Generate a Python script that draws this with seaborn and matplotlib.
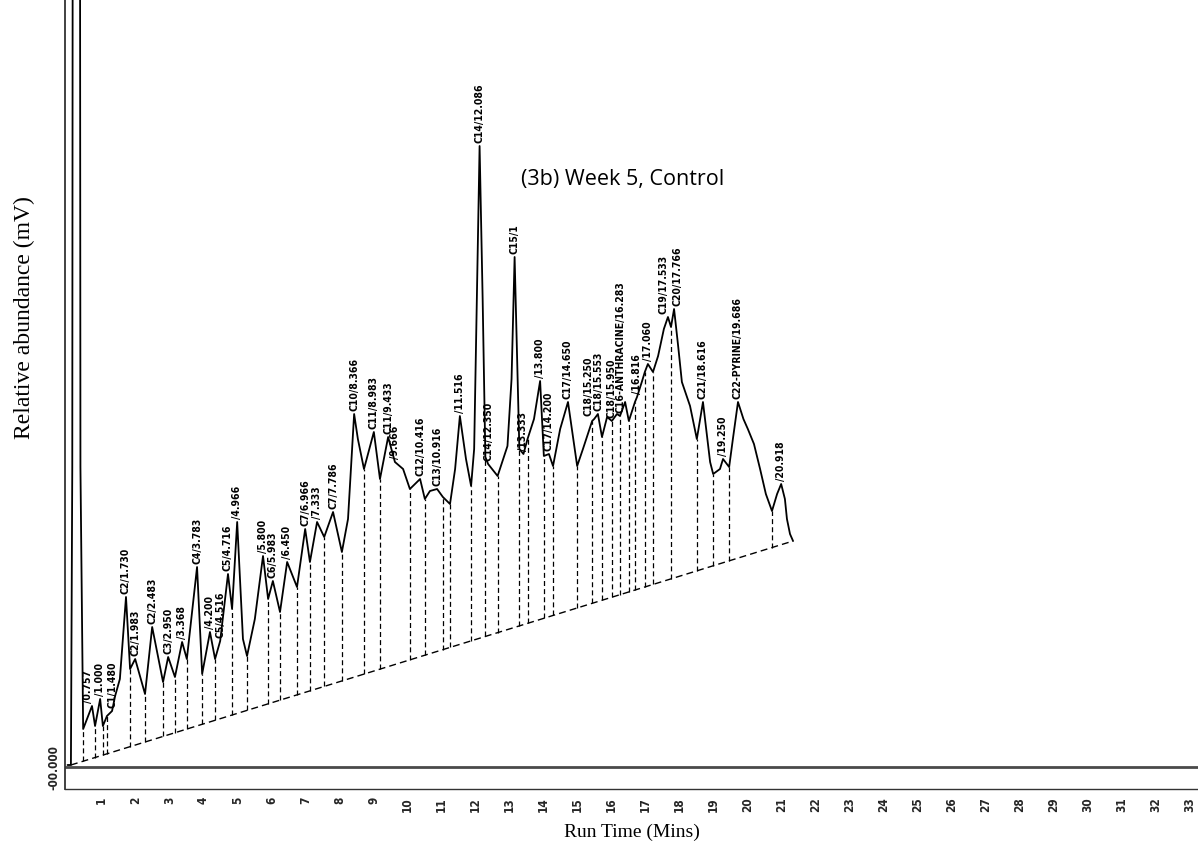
import numpy as np
import matplotlib
matplotlib.use("Agg")
import matplotlib.pyplot as plt
import seaborn as sns

# ---------------- data ----------------
trace_time = [0.00, 0.10, 0.14, 0.20, 0.32, 0.38, 0.46, 0.72, 0.81, 0.96, 1.04, 1.16, 1.31, 1.40, 1.54,
              1.72, 1.84, 1.99, 2.28, 2.49, 2.81, 2.96, 3.16, 3.37, 3.51, 3.81, 3.96, 4.19, 4.34, 4.49,
              4.72, 4.84, 4.99, 5.16, 5.28, 5.51, 5.75, 5.90, 6.04, 6.25, 6.46, 6.75, 6.99, 7.13, 7.34,
              7.55, 7.81, 8.07, 8.25, 8.43, 8.54, 8.72, 9.01, 9.19, 9.43, 9.63, 9.87, 10.07, 10.37, 10.51,
              10.66, 10.87, 11.04, 11.25, 11.40, 11.54, 11.72, 11.87, 11.96, 12.04, 12.12, 12.21, 12.29,
              12.37, 12.65, 12.94, 13.06, 13.15, 13.24, 13.29, 13.41, 13.53, 13.72, 13.90, 14.01, 14.16,
              14.28, 14.49, 14.72, 14.99, 15.16, 15.43, 15.49, 15.60, 15.72, 15.87, 16.01, 16.16, 16.25,
              16.40, 16.51, 16.69, 16.75, 16.90, 16.98, 17.07, 17.22, 17.37, 17.54, 17.66, 17.75, 17.84,
              17.96, 18.07, 18.31, 18.51, 18.69, 18.90, 18.99, 19.19, 19.28, 19.46, 19.57, 19.72, 19.88,
              20.01, 20.19, 20.37, 20.54, 20.72, 20.87, 20.99, 21.10, 21.16, 21.25, 21.34]
trace_mv = [2, 2, 300, 3000, 3000, 300, 38, 61, 41, 68, 41, 51, 56, 71, 88,
            170, 98, 108, 73, 140, 85, 110, 90, 125, 108, 200, 93, 135, 108, 126,
            193, 158, 245, 128, 111, 148, 211, 168, 186, 155, 205, 180, 238, 205, 245,
            230, 255, 215, 248, 353, 328, 298, 335, 288, 330, 305, 298, 278, 288, 268,
            276, 278, 270, 263, 298, 351, 308, 281, 318, 468, 621, 468, 310,
            303, 291, 321, 388, 510, 388, 318, 313, 328, 348, 386, 311, 313,
            301, 338, 365, 301, 318, 346, 348, 353, 330, 350, 346, 353, 351,
            365, 346, 365, 370, 386, 395, 403, 395, 411, 438, 450, 440, 458,
            421, 385, 361, 328, 365, 305, 293, 298, 308, 300, 328, 365, 348,
            338, 323, 298, 273, 256, 273, 283, 268, 248, 233, 226]

base_time = [0.10, 21.34]
base_mv = [2, 226]

drop_time = [0.46, 0.81, 1.04, 1.16, 1.84, 2.28, 2.81, 3.16, 3.51, 3.96, 4.34, 4.84, 5.28, 5.90,
             6.25, 6.75, 7.13, 7.55, 8.07, 8.72, 9.19, 10.07, 10.51, 11.04, 11.25, 11.87, 12.29,
             12.65, 13.29, 13.53, 14.01, 14.28, 14.99, 15.43, 15.72, 16.01, 16.25, 16.51, 16.69,
             16.98, 17.22, 17.75, 18.51, 18.99, 19.46, 20.72]

peak_time = [0.72, 0.96, 1.31, 1.72, 1.99, 2.49, 2.96, 3.37, 3.81, 4.19, 4.49, 4.72, 4.99, 5.75,
             6.04, 6.46, 6.99, 7.34, 7.81, 8.43, 9.01, 9.43, 9.63, 10.37, 10.87, 11.54, 12.12,
             12.37, 13.15, 13.41, 13.90, 14.16, 14.72, 15.49, 15.60, 16.01, 16.25, 16.75, 17.07,
             17.66, 17.84, 18.69, 19.28, 19.72, 20.99]
peak_label = ["/0.757", "/1.000", "C1/1.480", "C2/1.730", "C2/1.983", "C2/2.483", "C3/2.950",
              "/3.368", "C4/3.783", "/4.200", "C5/4.516", "C5/4.716", "/4.966", "/5.800",
              "C6/5.983", "/6.450", "C7/6.966", "/7.333", "C7/7.786", "C10/8.366", "C11/8.983",
              "C11/9.433", "/9.666", "C12/10.416", "C13/10.916", "/11.516", "C14/12.086",
              "C14/12.350", "C15/1", "/13.333", "/13.800", "C17/14.200", "C17/14.650",
              "C18/15.250", "C18/15.553", "C18/15.950", "C16-ANTHRACINE/16.283", "/16.816",
              "/17.060", "C19/17.533", "C20/17.766", "C21/18.616", "/19.250",
              "C22-PYRINE/19.686", "/20.918"]

x_ticks = list(range(1, 34))
x_tick_labels = [str(v) for v in x_ticks]
zero_label = "-00.000"

title_text = "(3b) Week 5, Control"
x_title = "Run Time (Mins)"
y_title = "Relative abundance (mV)"

# ---------------- drawing ----------------
sns.set_style("white")
plt.rcParams["font.family"] = ["DejaVu Sans"]
LAB_FONT = dict(family=["DejaVu Sans"], fontstretch="condensed", fontweight="bold")

W, H = 1198, 854
fig = plt.figure(figsize=(W / 100, H / 100), dpi=100)
ax = fig.add_axes([65 / W, 64 / H, (W - 65) / W, 790 / H])

ax.set_xlim(-0.074, 33.25)
ax.set_ylim(-22, 768)

# zero line
ax.axhline(0, color="#4a4a4a", lw=2.0, zorder=1)

# integration baseline (dashed)
sns.lineplot(x=base_time, y=base_mv, ax=ax, color="black", lw=1.0,
             linestyle=(0, (5, 3)), estimator=None, sort=False, zorder=2)

# drop lines from the trace to the baseline
tt = np.array(trace_time, dtype=float)
tv = np.array(trace_mv, dtype=float)
dt = np.array(drop_time, dtype=float)
top_v = np.interp(dt, tt, tv)
bot_v = np.interp(dt, base_time, base_mv)
ax.vlines(dt, bot_v, top_v, colors="black", linestyles=(0, (4, 2.5)), lw=0.9, zorder=2)

# chromatogram trace
sns.lineplot(x=trace_time, y=trace_mv, ax=ax, color="black", lw=1.3,
             estimator=None, sort=False, zorder=3)

# peak labels (small horizontal nudges, in pixels, where labels crowd)
nudge = {"/0.757": -4, "C18/15.250": -6, "C18/15.553": 1, "C19/17.533": -4, "C20/17.766": 3}
pt = np.array(peak_time, dtype=float)
pv = np.interp(pt, tt, tv)
for t, v, lab in zip(pt, pv, peak_label):
    ax.annotate(lab, (t, v), xytext=(nudge.get(lab, 0) * 0.72, 3), textcoords="offset points",
                rotation=90, ha="center", va="bottom", fontsize=7.5, color="black",
                zorder=4, **LAB_FONT)

# axes styling
for s in ["top", "right"]:
    ax.spines[s].set_visible(False)
ax.spines["left"].set_color("#333333")
ax.spines["left"].set_linewidth(1.3)
ax.spines["bottom"].set_color("#333333")
ax.spines["bottom"].set_linewidth(1.0)

ax.set_xticks(x_ticks)
ax.set_xticklabels(x_tick_labels, rotation=90, fontsize=8.5, **LAB_FONT)
ax.tick_params(axis="x", direction="in", length=4, width=0.8, color="#333333", pad=5)
ax.set_yticks([0])
ax.set_yticklabels([zero_label], rotation=90, va="center", fontsize=8.5, **LAB_FONT)
ax.tick_params(axis="y", length=0, pad=3)
ax.set_xlabel("")
ax.set_ylabel("")

fig.text(623 / W, 1 - 180 / H, title_text, ha="center", va="center",
         fontsize=15.5, family=["Open Sans", "DejaVu Sans"], color="black")
fig.text(632 / W, 1 - 832 / H, x_title, ha="center", va="center",
         fontsize=14, family=["Liberation Serif", "DejaVu Serif"], color="black")
fig.text(24 / W, 1 - 318 / H, y_title, ha="center", va="center", rotation=90,
         fontsize=17, family=["Liberation Serif", "DejaVu Serif"], color="black")

fig.savefig("out.png", dpi=100, facecolor="white")
